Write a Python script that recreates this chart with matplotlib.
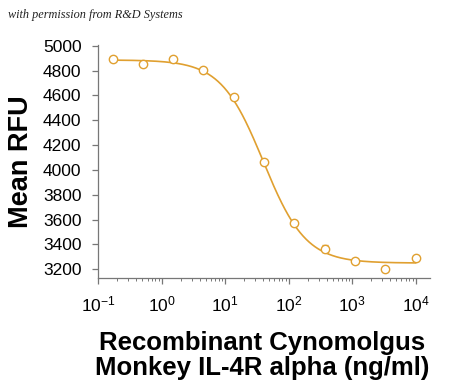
import numpy as np
import matplotlib
matplotlib.use("Agg")
import matplotlib.pyplot as plt

plt.rcParams["font.family"] = ["Liberation Sans", "DejaVu Sans"]
plt.rcParams["mathtext.default"] = "regular"

# data
conc = [0.17, 0.51, 1.52, 4.57, 13.7, 41.2, 123, 370, 1111, 3333, 10000]
rfu = [4890, 4850, 4890, 4805, 4590, 4065, 3575, 3367, 3265, 3205, 3290]
err = [5, 5, 22, 10, 5, 5, 5, 25, 5, 5, 5]

# 4PL fit parameters (estimated)
fit_top = 4885
fit_bottom = 3250
fit_ec50 = 40.0
fit_hill = 1.3

color = "#E0A030"

fig = plt.figure(figsize=(4.5, 3.85), dpi=100)
ax = fig.add_axes([0.218, 0.278, 0.738, 0.605])

xs = np.logspace(np.log10(conc[0]), np.log10(conc[-1]), 300)
ys = fit_bottom + (fit_top - fit_bottom) / (1 + (xs / fit_ec50) ** fit_hill)
ax.plot(xs, ys, color=color, lw=1.2)
ax.errorbar(conc, rfu, yerr=err, fmt="o", mfc="white", mec=color, ecolor=color,
            ms=6, mew=1.0, capsize=2.5, elinewidth=1.0)

ax.set_xscale("log")
ax.set_xlim(0.1, 17000)
ax.set_ylim(3130, 5005)
ax.set_yticks(range(3200, 5001, 200))
ax.set_xticks([0.1, 1, 10, 100, 1000, 10000])

for s in ["top", "right"]:
    ax.spines[s].set_visible(False)
for s in ["left", "bottom"]:
    ax.spines[s].set_color("#777777")
    ax.spines[s].set_linewidth(0.9)
ax.tick_params(axis="both", which="major", labelsize=12.5, color="#777777", length=4, width=0.9)
ax.tick_params(axis="x", which="minor", color="#777777", length=2.5, width=0.7)
ax.tick_params(axis="x", pad=8)
ax.tick_params(axis="y", pad=8)

ax.set_ylabel("Mean RFU", fontsize=19.5, fontweight="bold", labelpad=6)
ax.set_xlabel("Recombinant Cynomolgus\nMonkey IL-4R alpha (ng/ml)", fontsize=18.5,
              fontweight="bold", labelpad=12, linespacing=1.05)
ax.xaxis.label.set_x(0.495)

fig.text(0.018, 0.953, "with permission from R&D Systems", fontsize=8.8,
         family=["Liberation Serif", "DejaVu Serif"], style="italic", color="#222222")

fig.savefig("out.png", dpi=100, facecolor="white")
